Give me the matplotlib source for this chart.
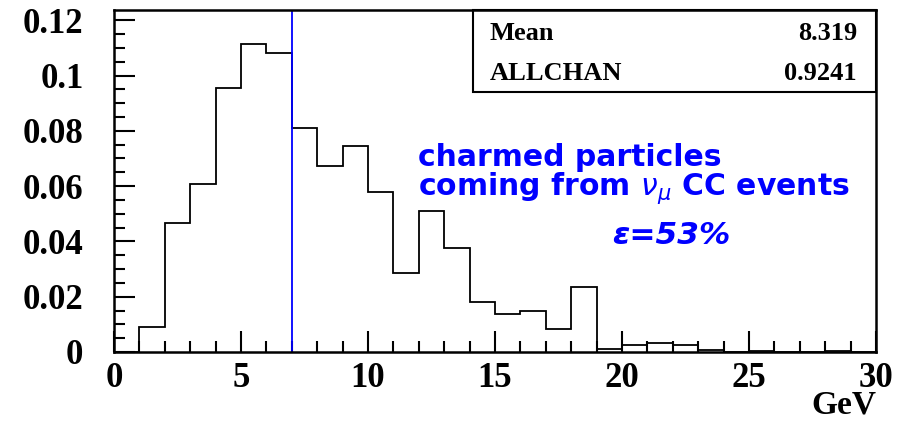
import numpy as np
import matplotlib
matplotlib.use("Agg")
import matplotlib.pyplot as plt
from matplotlib.ticker import MultipleLocator, FixedLocator

# Energy histogram of charmed particles (1 GeV bins, 0-30 GeV)
bin_edges = np.arange(0, 31, 1)
bin_contents = [
    0.0, 0.0090, 0.0465, 0.0607, 0.0954, 0.1114, 0.1081, 0.0810, 0.0672, 0.0745,
    0.0578, 0.0287, 0.0511, 0.0375, 0.0182, 0.0137, 0.0149, 0.0082, 0.0236, 0.0010,
    0.0025, 0.0034, 0.0025, 0.0008, 0.0000, 0.0005, 0.0000, 0.0000, 0.0003, 0.0000,
]
cut_value = 7.0
stat_names = ["Mean", "ALLCHAN"]
stat_values = ["8.319", "0.9241"]
x_ticks = [0, 5, 10, 15, 20, 25, 30]
y_ticks = [0, 0.02, 0.04, 0.06, 0.08, 0.1, 0.12]
y_tick_labels = ["0", "0.02", "0.04", "0.06", "0.08", "0.1", "0.12"]

serif = ["Liberation Serif", "DejaVu Serif"]

W, H = 908, 421
fig = plt.figure(figsize=(W / 100, H / 100), dpi=100)
ax = fig.add_axes([114 / W, 1 - 352 / H, (876 - 114) / W, (352 - 10) / H])

ax.stairs(bin_contents, bin_edges, color="black", linewidth=1.3, baseline=None)
ax.axvline(cut_value, color="#0000ff", linewidth=1.3)

ax.set_xlim(0, 30)
ax.set_ylim(0, 0.1237)

ax.xaxis.set_major_locator(FixedLocator(x_ticks))
ax.xaxis.set_minor_locator(MultipleLocator(1))
ax.yaxis.set_major_locator(FixedLocator(y_ticks))
ax.yaxis.set_minor_locator(MultipleLocator(0.005))
ax.set_yticklabels(y_tick_labels)
ax.tick_params(which="both", direction="in", top=False, right=False, width=1.5)
ax.tick_params(which="major", length=15)
ax.tick_params(which="minor", length=8)
ax.tick_params(axis="y", pad=22)
ax.tick_params(axis="x", pad=7)
for lab in ax.get_xticklabels() + ax.get_yticklabels():
    lab.set_fontfamily(serif)
    lab.set_fontweight("bold")
    lab.set_fontsize(25)
for sp in ax.spines.values():
    sp.set_linewidth(1.8)

fig.text(876 / W, 1 / H, "GeV", ha="right", va="bottom",
         fontsize=24, fontweight="bold", family=serif)

# statistics box in the upper right corner
box_left = (473 - 114) / (876 - 114)
box_bottom = (352 - 92) / (352 - 10)
ax.add_patch(plt.Rectangle((box_left, box_bottom), 1 - box_left, 1 - box_bottom,
                           transform=ax.transAxes, fill=False, edgecolor="black",
                           linewidth=1.5, clip_on=False))
for i, (name, val) in enumerate(zip(stat_names, stat_values)):
    y = (352 - (33 + 40 * i)) / (352 - 10)
    ax.text((490 - 114) / 762, y, name, transform=ax.transAxes, ha="left", va="center",
            fontsize=19, fontweight="bold", family=serif)
    ax.text((857 - 114) / 762, y, val, transform=ax.transAxes, ha="right", va="center",
            fontsize=19, fontweight="bold", family=serif)

ax.text(11.95, 0.0755, "charmed particles\ncoming from $\\nu_\\mu$ CC events",
        color="#0000ff", fontsize=21.5, fontweight="bold", family="DejaVu Sans",
        ha="left", va="top", linespacing=0.9)
ax.text(19.6, 0.0475, "\u03b5=53%", color="#0000ff", fontsize=22.5, fontweight="bold",
        family="DejaVu Sans", ha="left", va="top", style="italic")

fig.savefig("out.png", dpi=100)
